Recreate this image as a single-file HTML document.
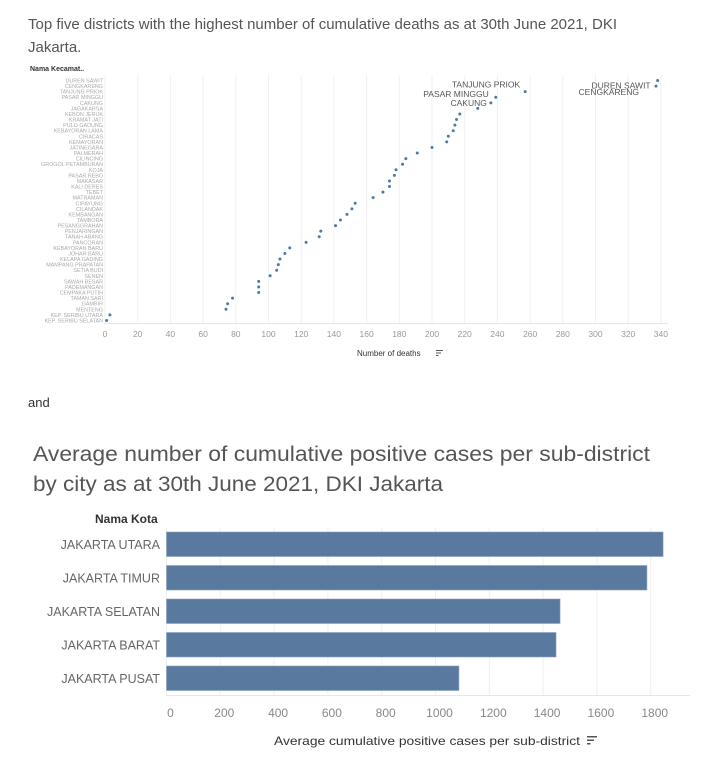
<!DOCTYPE html>
<html><head><meta charset="utf-8"><style>
body{margin:0;background:#fff;font-family:"Liberation Sans",sans-serif;}
svg{display:block}
</style></head><body>
<svg id="svg" width="706" height="773" xmlns="http://www.w3.org/2000/svg" font-family="Liberation Sans, sans-serif">
<text x="28" y="29" font-size="15" fill="#555" textLength="589" lengthAdjust="spacingAndGlyphs">Top five districts with the highest number of cumulative deaths as at 30th June 2021,  DKI</text>
<text x="28" y="52" font-size="15" fill="#555">Jakarta.</text>
<text x="30" y="71" font-size="7" font-weight="bold" fill="#333">Nama Kecamat..</text>
<g id="topg"></g>
<text x="28" y="407" font-size="13" fill="#333">and</text>
<text x="33" y="461" font-size="21" fill="#555" textLength="617" lengthAdjust="spacingAndGlyphs">Average number of cumulative positive cases per sub-district</text>
<text x="33" y="491" font-size="21" fill="#555" textLength="410" lengthAdjust="spacingAndGlyphs">by city as at 30th June 2021, DKI Jakarta</text>
<text x="95" y="523" font-size="12" font-weight="bold" fill="#333">Nama Kota</text>
<g id="bottom"></g>
</svg>
<script>
const districts=["DUREN SAWIT","CENGKARENG","TANJUNG PRIOK","PASAR MINGGU","CAKUNG","JAGAKARSA","KEBON JERUK","KRAMAT JATI","PULO GADUNG","KEBAYORAN LAMA","CIRACAS","KEMAYORAN","JATINEGARA","PALMERAH","CILINCING","GROGOL PETAMBURAN","KOJA","PASAR REBO","MAKASAR","KALI DERES","TEBET","MATRAMAN","CIPAYUNG","CILANDAK","KEMBANGAN","TAMBORA","PESANGGRAHAN","PENJARINGAN","TANAH ABANG","PANCORAN","KEBAYORAN BARU","JOHAR BARU","KELAPA GADING","MAMPANG PRAPATAN","SETIA BUDI","SENEN","SAWAH BESAR","PADEMANGAN","CEMPAKA PUTIH","TAMAN SARI","GAMBIR","MENTENG","KEP. SERIBU UTARA","KEP. SERIBU SELATAN"];
const deaths=[338,337,257,239,236,228,217,215,214,213,210,209,200,191,184,182,178,177,174,174,170,164,153,151,148,144,141,132,131,123,113,110,107,106,105,101,94,94,94,78,75,74,3,1];
const deathTicks=[0,20,40,60,80,100,120,140,160,180,200,220,240,260,280,300,320,340];
const labelledTop=["DUREN SAWIT","CENGKARENG","TANJUNG PRIOK","PASAR MINGGU","CAKUNG"];
const cities=["JAKARTA UTARA","JAKARTA TIMUR","JAKARTA SELATAN","JAKARTA BARAT","JAKARTA PUSAT"];
const avgCases=[1846,1786,1463,1448,1087];
const caseTicks=[0,200,400,600,800,1000,1200,1400,1600,1800];

const NS="http://www.w3.org/2000/svg";
function mk(tag,attrs,parent,txt){const e=document.createElementNS(NS,tag);for(const k in attrs)e.setAttribute(k,attrs[k]);if(txt!==undefined)e.textContent=txt;parent.appendChild(e);return e;}

// top chart
const topG=document.getElementById('topg');
const tx=v=>105+v*1.635;
const ty=i=>80.5+i*5.58;
deathTicks.forEach(t=>{
  const g=mk('line',{x1:tx(t),x2:tx(t),y1:75,y2:323,stroke:'#f0f0f0','stroke-width':1},topG);
  
  
  const l=mk('text',{x:tx(t),y:337,'font-size':8.5,fill:'#999','text-anchor':'middle'},topG,String(t));
  
  
});
const ax=mk('line',{x1:104,x2:668,y1:323.5,y2:323.5,stroke:'#e6e6e6'},topG);


districts.forEach((d,i)=>{
  const t=mk('text',{x:103,y:ty(i)+2,'font-size':5.4,fill:'#aaa','text-anchor':'end'},topG,d);
  
  
  const c=mk('circle',{cx:tx(deaths[i]),cy:ty(i),r:1.5,fill:'#4e79a7'},topG);
  
  
});
const offs={"DUREN SAWIT":[-7,8],"CENGKARENG":[-17,9],"TANJUNG PRIOK":[-5,-4],"PASAR MINGGU":[-7,0],"CAKUNG":[-4,3]};
labelledTop.forEach(n=>{
  const i=districts.indexOf(n);
  const o=offs[n];
  const t=mk('text',{x:tx(deaths[i])+o[0],y:ty(i)+o[1],'font-size':8.5,fill:'#555','text-anchor':'end'},topG,n);
  
  
});
const xt=mk('text',{x:357,y:356,'font-size':8,fill:'#333'},topG,'Number of deaths');


const si=mk('g',{transform:'translate(436,350)'},topG);


mk('rect',{x:0,y:0,width:7,height:1,fill:'#555'},si);mk('rect',{x:0,y:2.5,width:5,height:1,fill:'#555'},si);mk('rect',{x:0,y:5,width:2.5,height:1,fill:'#555'},si);

// bottom chart
const bot=document.getElementById('bottom');
const bx=v=>166.5+v*0.269;
const by=i=>532+i*33.5;
caseTicks.forEach(t=>{
  const g=mk('line',{x1:bx(t),x2:bx(t),y1:528,y2:695,stroke:'#f0f0f0'},bot);
  
  
  const l=mk('text',{x:bx(t)+4,y:717,'font-size':12,fill:'#888','text-anchor':'middle'},bot,String(t));
  
  
});
const bax=mk('line',{x1:166,x2:690,y1:695.5,y2:695.5,stroke:'#e6e6e6'},bot);


cities.forEach((c,i)=>{
  const t=mk('text',{x:160,y:by(i)+17,'font-size':12.5,fill:'#666','text-anchor':'end'},bot,c);
  
  
  const r=mk('rect',{x:bx(0),y:by(i),width:bx(avgCases[i])-bx(0),height:24.5,fill:'#59799f',stroke:'#8aa2c0','stroke-width':0.6},bot);
  
  
});
const bxt=mk('text',{x:274,y:745,'font-size':12,fill:'#333',textLength:306,lengthAdjust:'spacingAndGlyphs'},bot,'Average cumulative positive cases per sub-district');


const si2=mk('g',{transform:'translate(587,736)'},bot);


mk('rect',{x:0,y:0,width:10,height:1.5,fill:'#555'},si2);mk('rect',{x:0,y:3.5,width:7,height:1.5,fill:'#555'},si2);mk('rect',{x:0,y:7,width:3.5,height:1.5,fill:'#555'},si2);
</script>
</body></html>
